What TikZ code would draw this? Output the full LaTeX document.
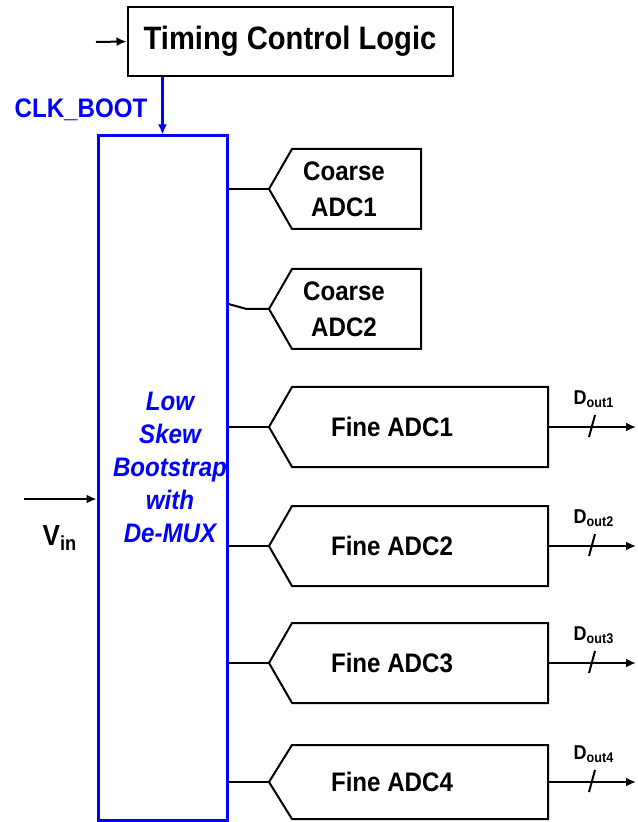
\documentclass[tikz,border=0pt]{standalone}
\usepackage{fontspec}
\setmainfont{Liberation Sans}[FakeStretch=0.9]
\usetikzlibrary{arrows.meta}

\tikzset{
  blk/.style={draw, line width=1pt},
  adc/.style={draw, line width=1pt, line join=miter},
  wire/.style={line width=1pt},
  sig/.style={line width=1pt, -{Latex[length=5pt,width=4.5pt]}},
  lbl/.style={font=\bfseries\fontsize{13.4}{18}\selectfont, align=center, inner sep=0pt},
  bootlbl/.style={font=\bfseries\itshape\fontsize{13.4}{16.5}\selectfont, align=center, text=blue, inner sep=0pt},
}

\begin{document}
\begin{tikzpicture}[x=0.5pt, y=-0.5pt]
\useasboundingbox (0,0) rectangle (637,822);

% timing logic and bootstrap
\node[blk, minimum width=162.5pt, minimum height=34.5pt, font=\bfseries\fontsize{16.2}{19}\selectfont] (timing) at (290,41.5) {Timing Control Logic};
\node[draw=blue, line width=1.5pt, minimum width=64.5pt, minimum height=342pt] (boot) at (162.5,478) {};
\node[bootlbl] (bootlbl) at (170,467) {Low\\Skew\\Bootstrap\\with\\De-MUX};

\coordinate (tin) at (96,42);
\draw[sig] (tin) -- (timing.west);
\draw[sig, draw=blue, line width=1.5pt] (timing.south -| boot.north) -- (boot.north);
\node[lbl, text=blue] (clk) at (81,110) {CLK\_BOOT};

\coordinate (vin) at (24,499);
\draw[sig] (vin) -- (vin -| boot.west);
\node[font=\bfseries\fontsize{14.5}{16}\selectfont, inner sep=0pt] (vinlbl) at (60,538) {V\textsubscript{in}};

% coarse ADCs
\foreach \i/\y in {1/189,2/309} {
  \coordinate (coarse\i) at (269,\y);
  \draw[adc] (coarse\i) -- ++(23,-40) -- ++(129,0) -- ++(0,80) -- ++(-129,0) -- cycle;
  \node[lbl] (coarse\i txt) at (344,\y) {Coarse\\ADC\i};
}
\draw[wire] (boot.east |- coarse1) -- (coarse1);
\draw[wire] (boot.east |- coarse2) ++(0,-5) -- ++(18,5) -- (coarse2);

% fine ADCs
\foreach \i/\y/\h in {1/427/40,2/546/40,3/663/40,4/782/37} {
  \coordinate (fine\i) at (269,\y);
  \draw[adc] (fine\i) -- ++(23,-\h) -- ++(256,0) -- ++(0,2*\h) -- ++(-256,0) -- cycle;
  \node[lbl] (fine\i txt) at (392,\y) {Fine ADC\i};
  \coordinate (fine\i out) at (548,\y);
  \coordinate (dout\i) at (636,\y);
  \draw[wire] (boot.east |- fine\i) -- (fine\i);
  \draw[sig] (fine\i out) -- (dout\i);
  \draw[wire] (589,\y+10) -- (595,\y-12);
  \node[font=\bfseries\fontsize{10}{12}\selectfont, inner sep=0pt] (dout\i lbl) at (594,\y-28) {D\textsubscript{out\i}};
}

\end{tikzpicture}
\end{document}
